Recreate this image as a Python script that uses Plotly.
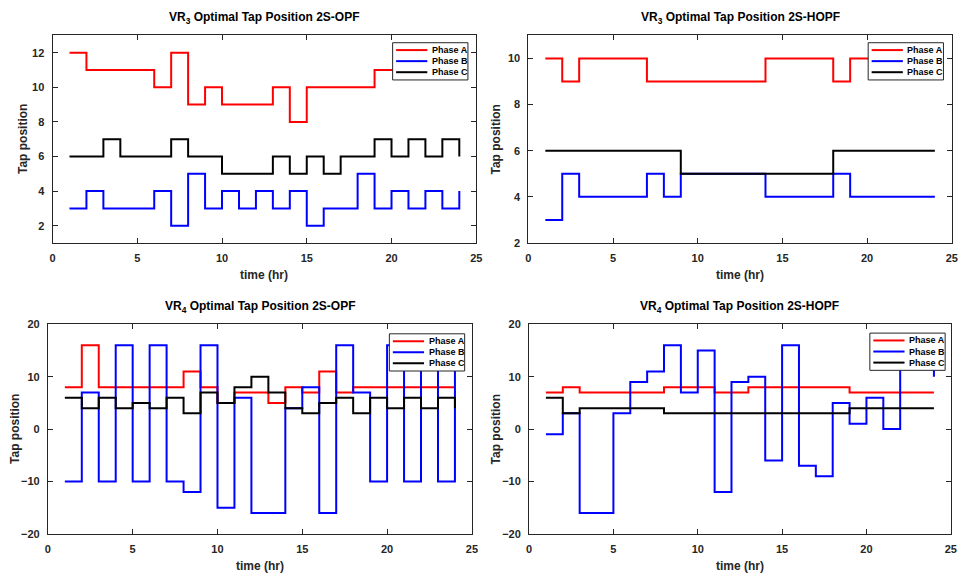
import plotly.graph_objects as go

W, H = 967, 582

hours = list(range(1, 25))

# VR3 2S-OPF
vr3_opf_a = [12, 11, 11, 11, 11, 10, 12, 9, 10, 9, 9, 9, 10, 8, 10, 10, 10, 10, 11, 11, 11, 11, 11, 11]
vr3_opf_b = [3, 4, 3, 3, 3, 4, 2, 5, 3, 4, 3, 4, 3, 4, 2, 3, 3, 5, 3, 4, 3, 4, 3, 4]
vr3_opf_c = [6, 6, 7, 6, 6, 6, 7, 6, 6, 5, 5, 5, 6, 5, 6, 5, 6, 6, 7, 6, 7, 6, 7, 6]

# VR3 2S-HOPF
vr3_hopf_a = [10, 9, 10, 10, 10, 10, 9, 9, 9, 9, 9, 9, 9, 10, 10, 10, 10, 9, 10, 10, 10, 10, 10, 10]
vr3_hopf_b = [3, 5, 4, 4, 4, 4, 5, 4, 5, 5, 5, 5, 5, 4, 4, 4, 4, 5, 4, 4, 4, 4, 4, 4]
vr3_hopf_c = [6, 6, 6, 6, 6, 6, 6, 6, 5, 5, 5, 5, 5, 5, 5, 5, 5, 6, 6, 6, 6, 6, 6, 6]

# VR4 2S-OPF
vr4_opf_a = [8, 16, 8, 8, 8, 8, 8, 11, 8, 5, 7, 7, 5, 8, 7, 11, 7, 8, 8, 8, 8, 8, 8, 8]
vr4_opf_b = [-10, 7, -10, 16, -10, 16, -10, -12, 16, -15, 6, -16, -16, 4, 8, -16, 16, 7, -10, 16, -10, 16, -10, 16]
vr4_opf_c = [6, 4, 6, 4, 5, 4, 6, 3, 7, 5, 8, 10, 7, 4, 3, 5, 6, 3, 6, 4, 6, 4, 6, 4]

# VR4 2S-HOPF
vr4_hopf_a = [7, 8, 7, 7, 7, 7, 7, 8, 8, 8, 7, 7, 8, 8, 8, 8, 8, 8, 7, 7, 7, 7, 7, 7]
vr4_hopf_b = [-1, 3, -16, -16, 3, 9, 11, 16, 7, 15, -12, 9, 10, -6, 16, -7, -9, 5, 1, 6, 0, 16, 16, 10]
vr4_hopf_c = [6, 3, 4, 4, 4, 4, 4, 3, 3, 3, 3, 3, 3, 3, 3, 3, 3, 3, 4, 4, 4, 4, 4, 4]

phase_names = ["Phase A", "Phase B", "Phase C"]
phase_colors = ["#FF0000", "#0000FF", "#000000"]

titles = [
    "VR<sub>3</sub> Optimal Tap Position 2S-OPF",
    "VR<sub>3</sub> Optimal Tap Position 2S-HOPF",
    "VR<sub>4</sub> Optimal Tap Position 2S-OPF",
    "VR<sub>4</sub> Optimal Tap Position 2S-HOPF",
]
series = [
    (vr3_opf_a, vr3_opf_b, vr3_opf_c),
    (vr3_hopf_a, vr3_hopf_b, vr3_hopf_c),
    (vr4_opf_a, vr4_opf_b, vr4_opf_c),
    (vr4_hopf_a, vr4_hopf_b, vr4_hopf_c),
]
y_ranges = [[1, 13], [2, 11], [-20, 20], [-20, 20]]
y_dticks = [2, 2, 10, 10]
x_range = [0, 25]

# axes boxes in pixels: (left, right, top, bottom)
boxes = [
    (50.0, 477.7, 30.0, 242.0),
    (530.3, 957.7, 30.0, 242.0),
    (45.3, 473.3, 325.0, 539.0),
    (531.0, 956.7, 325.0, 539.0),
]
ylabel_x = [20, 498, 12, 498]
# legend box offsets (from axis right, from axis top)
leg_off = [(8.4, 7.5), (8.4, 7.5), (7.3, 9.7), (5.7, 9.0)]


def px(x):
    return x / W


def py(y):
    return 1 - y / H


FONT = "Liberation Sans, Arial, Helvetica, sans-serif"
AX_COLOR = "#262626"

fig = go.Figure()
shapes = []
annotations = []

for i in range(4):
    l, r, t, b = boxes[i]
    xa = "x" if i == 0 else f"x{i+1}"
    ya = "y" if i == 0 else f"y{i+1}"
    for k in range(3):
        fig.add_trace(go.Scatter(
            x=hours, y=series[i][k], mode="lines",
            line=dict(color=phase_colors[k], width=2, shape="hv"),
            name=phase_names[k], showlegend=False,
            xaxis=xa, yaxis=ya,
        ))
    axis_common = dict(
        showline=True, linecolor=AX_COLOR, linewidth=1, mirror="allticks",
        ticks="inside", ticklen=5, tickcolor=AX_COLOR, showgrid=False,
        zeroline=False,
        tickfont=dict(family=FONT, size=11, color=AX_COLOR, weight="bold"),
    )
    xname = "xaxis" if i == 0 else f"xaxis{i+1}"
    yname = "yaxis" if i == 0 else f"yaxis{i+1}"
    fig.update_layout(**{
        xname: dict(domain=[px(l), px(r)], range=x_range, dtick=5, tick0=0,
                    anchor=ya, ticklabelstandoff=5, **axis_common),
        yname: dict(domain=[py(b), py(t)], range=y_ranges[i], dtick=y_dticks[i],
                    tick0=0, anchor=xa, ticklabelstandoff=5, **axis_common),
    })
    cx = (l + r) / 2
    annotations.append(dict(
        text=titles[i], x=px(cx), y=py(t - 18), xref="paper", yref="paper",
        showarrow=False, xanchor="center", yanchor="middle",
        font=dict(family=FONT, size=12, color="#000000", weight="bold"),
    ))
    annotations.append(dict(
        text="time (hr)", x=px(cx), y=py(b + 33), xref="paper", yref="paper",
        showarrow=False, xanchor="center", yanchor="middle",
        font=dict(family=FONT, size=12, color=AX_COLOR, weight="bold"),
    ))
    annotations.append(dict(
        text="Tap position", x=px(ylabel_x[i]), y=py((t + b) / 2),
        xref="paper", yref="paper", textangle=-90,
        showarrow=False, xanchor="center", yanchor="middle",
        font=dict(family=FONT, size=12, color=AX_COLOR, weight="bold"),
    ))
    # legend box
    offr, offt = leg_off[i]
    lr = r - offr
    ll = lr - 76
    lt = t + offt
    lb = lt + 38
    shapes.append(dict(type="rect", xref="paper", yref="paper",
                       x0=px(ll), x1=px(lr), y0=py(lb), y1=py(lt),
                       line=dict(color=AX_COLOR, width=1), fillcolor="white",
                       layer="above"))
    for k in range(3):
        yy = lt + 7.5 + 11.3 * k
        shapes.append(dict(type="line", xref="paper", yref="paper",
                           x0=px(ll + 3.5), x1=px(ll + 35), y0=py(yy), y1=py(yy),
                           line=dict(color=phase_colors[k], width=2), layer="above"))
        annotations.append(dict(
            text=phase_names[k], x=px(ll + 37.5), y=py(yy), xref="paper", yref="paper",
            showarrow=False, xanchor="left", yanchor="middle",
            font=dict(family=FONT, size=9, color="#000000", weight="bold"),
        ))

fig.update_layout(
    width=W, height=H, margin=dict(l=0, r=0, t=0, b=0),
    paper_bgcolor="white", plot_bgcolor="white",
    shapes=shapes, annotations=annotations, showlegend=False,
)

fig.write_html("out.html")
